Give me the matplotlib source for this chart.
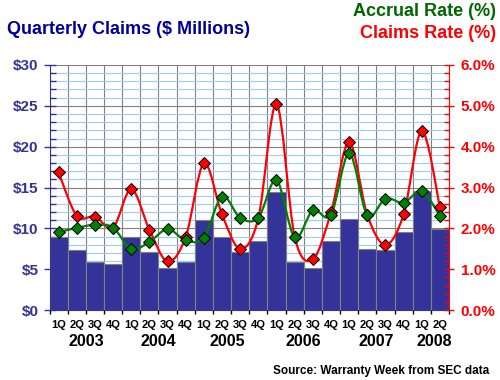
import numpy as np
import matplotlib.pyplot as plt
from matplotlib.path import Path
from matplotlib.patches import PathPatch
from matplotlib.ticker import MultipleLocator, FixedLocator, NullFormatter
from matplotlib.transforms import blended_transform_factory

plt.rcParams['font.family'] = ['Liberation Sans', 'DejaVu Sans']
plt.rcParams['font.weight'] = 'bold'

# data
quarters = ["1Q", "2Q", "3Q", "4Q"] * 5 + ["1Q", "2Q"]
years = ["2003", "2004", "2005", "2006", "2007", "2008"]
year_pos = [1.5, 5.5, 9.3, 13.5, 17.5, 20.7]
claims = [9.0, 7.4, 5.9, 5.7, 8.9, 7.1, 5.2, 5.9, 11.0, 8.9, 7.1,
          8.5, 14.4, 5.9, 5.2, 8.4, 11.2, 7.5, 7.4, 9.6, 14.6, 9.9]
accrual_rate = [1.91, 2.01, 2.09, 2.02, 1.49, 1.67, 1.98, 1.71, 1.77, 2.78, 2.26,
                2.26, 3.18, 1.78, 2.44, 2.33, 3.84, 2.32, 2.73, 2.63, 2.91, 2.31]
claims_rate = [3.37, 2.31, 2.29, 2.02, 2.96, 1.97, 1.19, 1.79, 3.59, 2.34, 1.50,
               2.25, 5.04, 1.80, 1.24, 2.39, 4.11, 2.33, 1.60, 2.34, 4.38, 2.52]

NAVY = "#333399"
RED = "#FF0000"
GREEN = "#008000"


def smooth_path(x, y):
    # catmull-rom style curve through the data points
    pts = np.column_stack([x, y]).astype(float)
    n = len(pts)
    verts = [pts[0]]
    codes = [Path.MOVETO]
    for i in range(n - 1):
        p0 = pts[max(i - 1, 0)]
        p1 = pts[i]
        p2 = pts[i + 1]
        p3 = pts[min(i + 2, n - 1)]
        verts += [p1 + (p2 - p0) / 6, p2 - (p3 - p1) / 6, p2]
        codes += [Path.CURVE4] * 3
    return Path(verts, codes)


fig = plt.figure(figsize=(5, 3.8), dpi=100)
ax = fig.add_axes([0.099, 0.184, 0.799, 0.645])
x = np.arange(len(claims))

ax.bar(x, claims, width=1.0, color=NAVY, edgecolor="#808080", linewidth=0.8, zorder=2)
ax.set_xlim(-0.5, len(claims) - 0.5)
ax.set_ylim(0, 30)

# grid
ax.yaxis.set_major_locator(MultipleLocator(5))
ax.yaxis.set_minor_locator(MultipleLocator(1))
ax.grid(which="minor", axis="y", color="#99CCFF", linewidth=0.8, zorder=0)
ax.grid(which="major", axis="y", color="#808080", linewidth=0.8, zorder=0)
for b in np.arange(-0.5, len(claims), 1.0):
    ax.axvline(b, color="#808080", linewidth=0.8, zorder=0.5)

ax.set_yticks(range(0, 31, 5))
ax.set_yticklabels(["$%d" % v for v in range(0, 31, 5)], color=NAVY, fontsize=11)
ax.tick_params(axis="y", which="major", direction="inout", length=8, width=1,
               color=NAVY, pad=4)
ax.tick_params(axis="y", which="minor", direction="in", length=4, width=1, color=NAVY)

# x ticks: boundaries as ticks, quarter labels at centers
ax.xaxis.set_major_locator(FixedLocator(np.arange(-0.5, len(claims), 1.0)))
ax.xaxis.set_major_formatter(NullFormatter())
ax.xaxis.set_minor_locator(FixedLocator(x))
ax.set_xticklabels(quarters, minor=True, fontsize=8)
ax.tick_params(axis="x", which="major", direction="out", length=3, width=1, color="black")
ax.tick_params(axis="x", which="minor", length=0, pad=7)

for s in ["top", "right"]:
    ax.spines[s].set_visible(False)
ax.spines["left"].set_color(NAVY)
ax.spines["bottom"].set_color(NAVY)

trans = blended_transform_factory(ax.transData, fig.transFigure)
for yr, p in zip(years, year_pos):
    fig.text(p, 1 - 341 / 380, yr, transform=trans, ha="center", va="center",
             fontsize=11.5, color="black")

# rates on right axis
ax2 = ax.twinx()
ax2.set_ylim(0, 6)
ax2.set_xlim(-0.5, len(claims) - 0.5)
ax2.yaxis.set_major_locator(MultipleLocator(1))
ax2.yaxis.set_minor_locator(MultipleLocator(0.2))
ax2.set_yticks(range(0, 7))
ax2.set_yticklabels(["%.1f%%" % v for v in range(0, 7)], color=RED, fontsize=11)
ax2.tick_params(axis="y", which="major", direction="inout", length=7, width=1,
                color=RED, pad=5)
ax2.tick_params(axis="y", which="minor", direction="in", length=3.5, width=1, color=RED)
for s in ["top", "left", "bottom"]:
    ax2.spines[s].set_visible(False)
ax2.spines["right"].set_color(RED)

ax2.add_patch(PathPatch(smooth_path(x, claims_rate), facecolor="none",
                        edgecolor=RED, linewidth=1.6, zorder=3))
ax2.add_patch(PathPatch(smooth_path(x, accrual_rate), facecolor="none",
                        edgecolor=GREEN, linewidth=1.6, zorder=4))
ax2.plot(x, claims_rate, linestyle="none", marker="D", markersize=6,
         markerfacecolor=RED, markeredgecolor="black", markeredgewidth=0.7, zorder=5)
ax2.plot(x, accrual_rate, linestyle="none", marker="D", markersize=6,
         markerfacecolor=GREEN, markeredgecolor="black", markeredgewidth=0.7, zorder=6)

# titles
fig.text(7 / 500, 1 - 29 / 380, "Quarterly Claims ($ Millions)", ha="left", va="center",
         fontsize=13, color="#000099")
fig.text(496 / 500, 1 - 12 / 380, "Accrual Rate (%)", ha="right", va="center",
         fontsize=13, color="#006600")
fig.text(496 / 500, 1 - 34 / 380, "Claims Rate (%)", ha="right", va="center",
         fontsize=13, color=RED)
fig.text(489 / 500, 1 - 371 / 380, "Source: Warranty Week from SEC data", ha="right",
         va="center", fontsize=8.5, color="black")

fig.savefig("out.png", dpi=100)
